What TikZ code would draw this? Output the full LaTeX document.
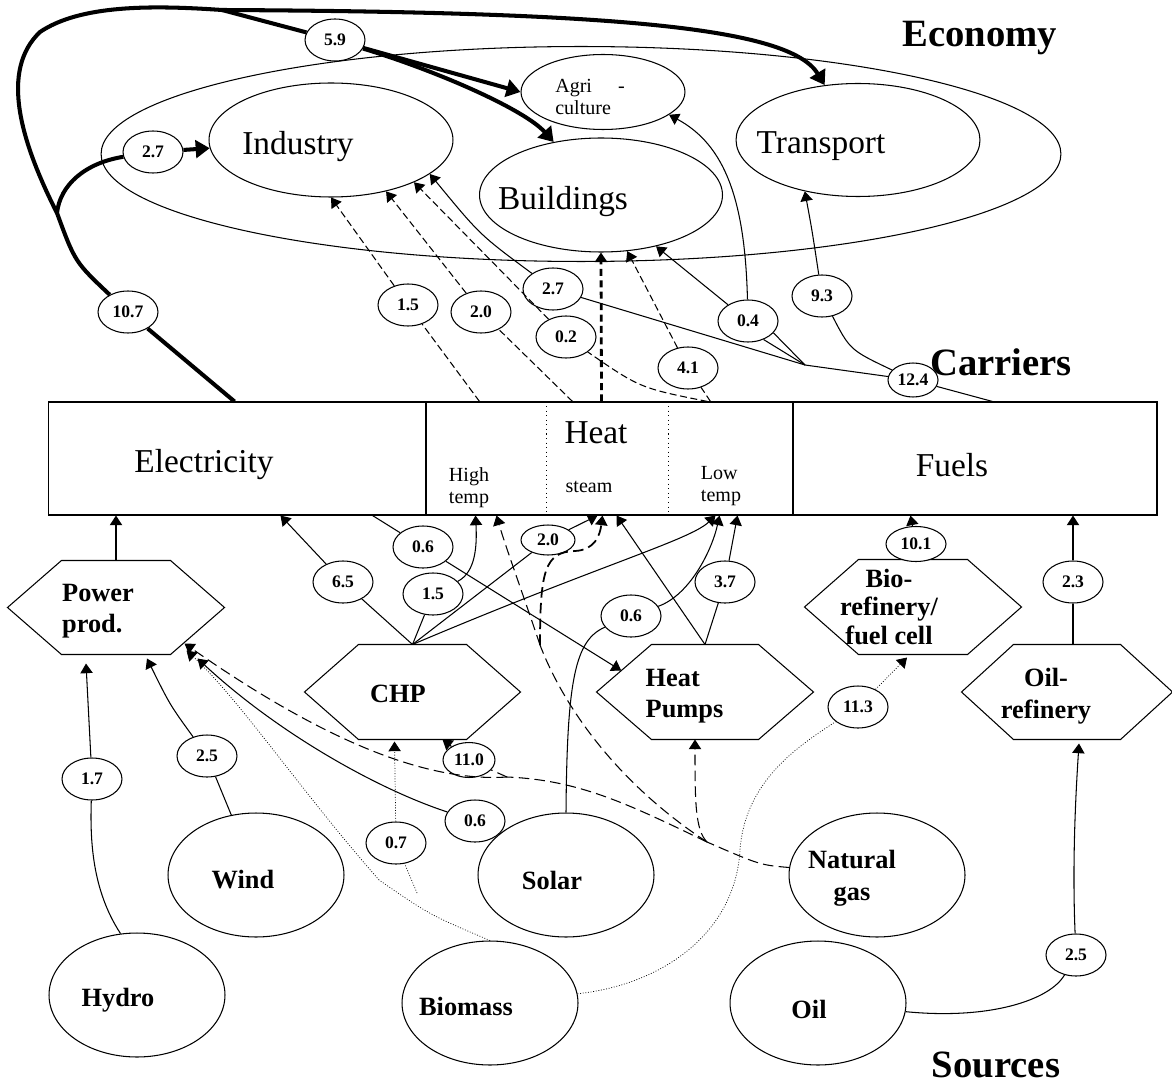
\documentclass[tikz,border=0pt]{standalone}
\usepackage{fontspec}
\setmainfont{Liberation Serif}
\usetikzlibrary{arrows.meta,shapes.geometric,calc}

% hexagon outline round a (rectangular) conversion node: name, inset
\newcommand{\hexframe}[2]{%
  \draw (#1.west) -- ($(#1.north west)+(#2,0)$) coordinate (#1-nw)
    -- ($(#1.north east)+(-#2,0)$) coordinate (#1-ne) -- (#1.east)
    -- ($(#1.south east)+(-#2,0)$) coordinate (#1-se)
    -- ($(#1.south west)+(#2,0)$) coordinate (#1-sw) -- cycle;}

\begin{document}
\begin{tikzpicture}[x=0.02cm,y=-0.02cm,line width=0.6pt,
  >={Triangle[length=5.5pt,width=7pt]},
  sector/.style={ellipse,draw,inner sep=0pt},
  sectxt/.style={font=\fontsize{19}{22}\selectfont},
  carrier/.style={rectangle,draw,inner sep=0pt,minimum height=2.26cm},
  subtxt/.style={font=\fontsize{11.4}{12.5}\selectfont,align=left,inner sep=0pt},
  conv/.style={rectangle,inner sep=0pt,minimum height=1.88cm},
  convtxt/.style={font=\bfseries\fontsize{15}{18}\selectfont,align=left},
  src/.style={ellipse,draw,inner sep=0pt,minimum width=3.52cm,minimum height=2.48cm},
  srctxt/.style={font=\bfseries\fontsize{15}{18}\selectfont,align=center},
  lbl/.style={ellipse,draw,fill=white,inner sep=0pt,minimum width=1.2cm,
              minimum height=0.84cm,font=\bfseries\fontsize{10}{12}\selectfont},
  title/.style={font=\bfseries\fontsize{22}{26}\selectfont,anchor=base,inner sep=0pt},
  eline/.style={line width=2.3pt},
  elflow/.style={eline,-{Triangle[length=8pt,width=10pt]}},
  hline/.style={dash pattern=on 4pt off 2pt},
  hflow/.style={hline,->},
  gline/.style={dash pattern=on 6pt off 3pt},
  gflow/.style={gline,->},
  bline/.style={line width=0.4pt,dash pattern=on 0.5pt off 1pt},
  bflow/.style={bline,->}
]
\useasboundingbox (0,0) rectangle (1172,1084);

% economy
\node[sector,minimum width=19.2cm,minimum height=4.3cm] (econ) at (581,154) {};
\node[sector,minimum width=4.88cm,minimum height=2.28cm,
  label={[sectxt,xshift=-0.66cm,yshift=-0.14cm]center:Industry}] (ind) at (331,140) {};
\node[sector,minimum width=3.28cm,minimum height=1.5cm,
  label={[subtxt,xshift=-0.26cm,yshift=-0.1cm]center:Agri\hspace{1.3em}-\\culture}] (agr) at (603,92) {};
\node[sector,minimum width=4.86cm,minimum height=2.28cm,
  label={[sectxt,xshift=-0.76cm,yshift=-0.14cm]center:Buildings}] (bld) at (601,195) {};
\node[sector,minimum width=4.88cm,minimum height=2.26cm,
  label={[sectxt,xshift=-0.74cm,yshift=-0.12cm]center:Transport}] (tra) at (858,140) {};
\node[title] (tEcon) at (980,47) {Economy};

% carriers
\node[carrier,minimum width=7.56cm,
  label={[sectxt,xshift=-0.66cm,yshift=-0.13cm]center:Electricity}] (elec) at (237,458.5) {};
\node[carrier,minimum width=7.34cm,
  label={[sectxt,xshift=-0.27cm,yshift=0.51cm]center:Heat}] (heat) at (609.5,458.5) {};
\node[carrier,minimum width=7.28cm,
  label={[sectxt,xshift=-0.46cm,yshift=-0.13cm]center:Fuels}] (fuels) at (975,458.5) {};
\draw[dotted] ($(heat.north west)+(121,0)$) -- ($(heat.south west)+(121,0)$);
\draw[dotted] ($(heat.north west)+(243,0)$) -- ($(heat.south west)+(243,0)$);
\node[subtxt] (hiT) at (469,488) {High\\temp};
\node[subtxt] (stT) at (589,487) {steam};
\node[subtxt] (loT) at (721,486) {Low\\temp};
\node[title] (tCar) at (1001,375) {Carriers};

% conversion
\node[conv,minimum width=4.32cm,minimum height=1.86cm,
  label={[convtxt,xshift=-0.36cm,yshift=-0.07cm]center:Power\\prod.}] (pow) at (116,607.5) {};
\node[conv,minimum width=4.3cm,
  label={[convtxt,xshift=-0.29cm,yshift=-0.04cm]center:CHP}] (chp) at (412.5,692) {};
\node[conv,minimum width=4.32cm,
  label={[convtxt,xshift=-0.41cm,yshift=-0.08cm]center:Heat\\Pumps}] (hp) at (705,692) {};
\node[conv,minimum width=4.32cm,
  label={[convtxt,align=center,font=\bfseries\fontsize{15}{16}\selectfont,xshift=-0.48cm]center:Bio-\\refinery/\\fuel cell}] (bio) at (913,607) {};
\node[conv,minimum width=4.2cm,
  label={[convtxt,align=center,xshift=-0.42cm,yshift=-0.08cm]center:Oil-\\refinery}] (oilr) at (1067,692) {};
\hexframe{pow}{54}
\hexframe{chp}{54}
\hexframe{hp}{55}
\hexframe{bio}{54}
\hexframe{oilr}{52}

% sources
\node[src,label={[srctxt,xshift=-0.38cm,yshift=-0.1cm]center:Hydro}] (hyd) at (137,995) {};
\node[src,label={[srctxt,xshift=-0.26cm,yshift=-0.1cm]center:Wind}] (wnd) at (256,875) {};
\node[src,label={[srctxt,xshift=-0.48cm,yshift=-0.06cm]center:Biomass}] (bms) at (490,1003) {};
\node[src,label={[srctxt,xshift=-0.28cm,yshift=-0.1cm]center:Solar}] (sol) at (566,875) {};
\node[src,label={[srctxt,xshift=-0.5cm,yshift=-0.06cm]center:Natural\\gas}] (ngas) at (877,875) {};
\node[src,label={[srctxt,xshift=-0.18cm,yshift=-0.12cm]center:Oil}] (oil) at (818,1003) {};
\node[title] (tSrc) at (996,1077) {Sources};

% flow values
\node[lbl] (l59)  at (335,40)  {5.9};
\node[lbl] (l27a) at (153,152) {2.7};
\node[lbl] (l107) at (128,312) {10.7};
\node[lbl] (l15a) at (408,305) {1.5};
\node[lbl] (l20a) at (481,312) {2.0};
\node[lbl] (l27b) at (553,289) {2.7};
\node[lbl] (l02)  at (566,337) {0.2};
\node[lbl] (l41)  at (688,368) {4.1};
\node[lbl] (l04)  at (748,321) {0.4};
\node[lbl] (l93)  at (822,296) {9.3};
\node[lbl,minimum width=1.0cm,minimum height=0.68cm] (l124) at (913,380) {12.4};
\node[lbl] (l06a) at (423,547) {0.6};
\node[lbl] (l65)  at (343,582) {6.5};
\node[lbl] (l15b) at (433,594) {1.5};
\node[lbl,minimum width=1.08cm,minimum height=0.6cm] (l20b) at (548,540) {2.0};
\node[lbl] (l06b) at (631,616) {0.6};
\node[lbl] (l37)  at (725,582) {3.7};
\node[lbl,minimum height=0.7cm] (l101) at (916,544) {10.1};
\node[lbl] (l23)  at (1073,582) {2.3};
\node[lbl] (l113) at (858,707) {11.3};
\node[lbl] (l17)  at (92,779)  {1.7};
\node[lbl] (l25a) at (207,756) {2.5};
\node[lbl] (l06c) at (475,821) {0.6};
\node[lbl,minimum width=1.04cm,minimum height=0.7cm] (l110) at (469,760) {11.0};
\node[lbl] (l07)  at (396,843) {0.7};
\node[lbl] (l25b) at (1076,955) {2.5};

\coordinate (j1) at (57,213);
\coordinate (j2) at (222,10);
\coordinate (jf) at (805,365);
\coordinate (g1) at (707,842);
\coordinate (g2) at (507,777);
\coordinate (g3) at (540,645);
\coordinate (b1) at (379,880);
\coordinate (b2) at (417,893);

% electricity to the economy
\draw[eline] ($(elec.north west)+(187,0)$) -- (l107);
\draw[elflow] (l107) .. controls (75,262) .. (j1)
  .. controls (20,140) and (0,70) .. (40,32)
  .. controls (80,5) and (150,5) .. (j2)
  .. controls (620,12) and (790,28) .. (tra);
\draw[eline] (j1) .. controls (60,185) and (85,163) .. (l27a);
\draw[elflow] (l27a) -- (ind);
\draw[eline] (j2) -- (l59);
\draw[elflow] (l59) -- (agr.west);
\draw[elflow] (l59) .. controls (440,72) and (525,110) .. (bld);

% heat to the economy
\draw[hline] ($(heat.north west)+(54,0)$) -- (l15a);
\draw[hflow] (l15a) -- (ind.south);
\draw[hline] ($(heat.north west)+(147,0)$) -- (l20a);
\draw[hflow] (l20a) -- (ind.-43);
\draw[hline] ($(heat.north west)+(282,0)$) .. controls (640,388) .. (l02);
\draw[hflow] (l02) -- (ind.-27);
\draw[->,line width=1.6pt,dash pattern=on 4pt off 2.5pt] ($(heat.north west)+(176,0)$) -- (bld.south);
\draw[hline] ($(heat.north west)+(285,0)$) -- (l41);
\draw[hflow] (l41) -- (bld.-65);

% fuels to the economy
\draw ($(fuels.north west)+(200,0)$) -- (l124);
\draw (l124) -- (jf);
\draw (jf) -- (l27b);
\draw[->] (l27b) .. controls (480,235) .. (ind.-19);
\draw (jf) -- (l04.-50);
\draw (jf) -- (l04.-25);
\draw[->] (l04) -- (bld.-43);
\draw[->] (l04) .. controls (745,200) and (725,145) .. (agr.-19);
\draw (l124) .. controls (850,350) .. (l93);
\draw[->] (l93) .. controls (812,230) .. (tra.-136);

% conversion to carriers
\draw[->] (pow.north) -- (pow.north |- elec.south);
\draw (chp.north) -- (l65);
\draw[->] (l65) -- ($(elec.south west)+(233,0)$);
\draw (chp.north) -- (l15b);
\draw[->] (l15b) .. controls (476,572) and (477,545) .. ($(heat.south west)+(50,0)$);
\draw (chp.north) -- (l20b);
\draw[->] (l20b) -- ($(heat.south west)+(172,0)$);
\draw[->] (chp.north) .. controls (600,565) and (690,540) .. ($(heat.south west)+(290,0)$);
\draw ($(elec.south west)+(325,0)$) -- (l06a);
\draw[->] (l06a) -- ($(hp.west)!0.45!(hp-nw)$);
\draw[->] (hp.north) -- ($(heat.south west)+(191,0)$);
\draw (hp.north) -- (l37);
\draw[->] (l37) -- ($(heat.south west)+(312,0)$);
\draw (sol.north) .. controls (567,680) and (575,640) .. (l06b);
\draw[->] (l06b) .. controls (690,595) and (712,550) .. ($(heat.south west)+(294,0)$);
\draw[->] (l101) -- ($(fuels.south west)+(118,0)$);
\draw ($(oilr.north)+(6,0)$) -- (l23);
\draw[->] (l23) -- (l23 |- fuels.south);

% sources to conversion
\draw (hyd.105) .. controls (92,890) and (90,840) .. (l17);
\draw[->] (l17) -- ($(pow.south)+(-30,9)$);
\draw (wnd) -- (l25a);
\draw[->] (l25a) .. controls (170,705) .. ($(pow.south)+(31,4)$);
\draw (sol) -- (l06c);
\draw[->] (l06c) .. controls (380,790) and (280,735) .. ($(pow.south east)+(-27,4)$);
\draw (oil) .. controls (990,1020) and (1050,1000) .. (l25b);
\draw[->] (l25b) .. controls (1072,860) and (1076,790) .. ($(oilr.south)+(12,4)$);

% natural gas
\draw[gline] (ngas) .. controls (760,865) .. (g1);
\draw[gline] (g1) .. controls (630,805) and (580,780) .. (g2);
\draw[gflow] (g2) .. controls (430,782) and (330,745) .. ($(pow.south east)+(-40,-11)$);
\draw[gline] (g2) -- (l110);
\draw[gflow] (l110) -- ($(chp.south)+(30,0)$);
\draw[gflow] (g1) .. controls (695,830) and (695,800) .. ($(hp.south)+(-10,0)$);
\draw[gline] (g1) .. controls (620,785) and (565,710) .. (g3);
\draw[gflow] (g3) .. controls (525,600) and (505,545) .. ($(heat.south west)+(71,0)$);
\draw[gflow,line width=1pt] (g3) .. controls (540,570) and (545,552) .. (575,551)
  .. controls (595,550) and (600,535) .. ($(heat.south west)+(177,0)$);

% biomass
\draw[bline] (bms.north) .. controls (430,915) .. (b1);
\draw[bflow] (b1) .. controls (300,790) and (240,700) .. ($(pow.south east)+(-38,-4)$);
\draw[bline] (b2) -- (l07);
\draw[bflow] (l07) -- ($(chp.south)+(-18,2)$);
\draw[bline] (bms) .. controls (660,985) and (735,935) .. (740,850)
  .. controls (745,780) and (800,745) .. (l113);
\draw[bflow] (l113) -- ($(bio.south)+(-6,3)$);
\end{tikzpicture}
\end{document}
